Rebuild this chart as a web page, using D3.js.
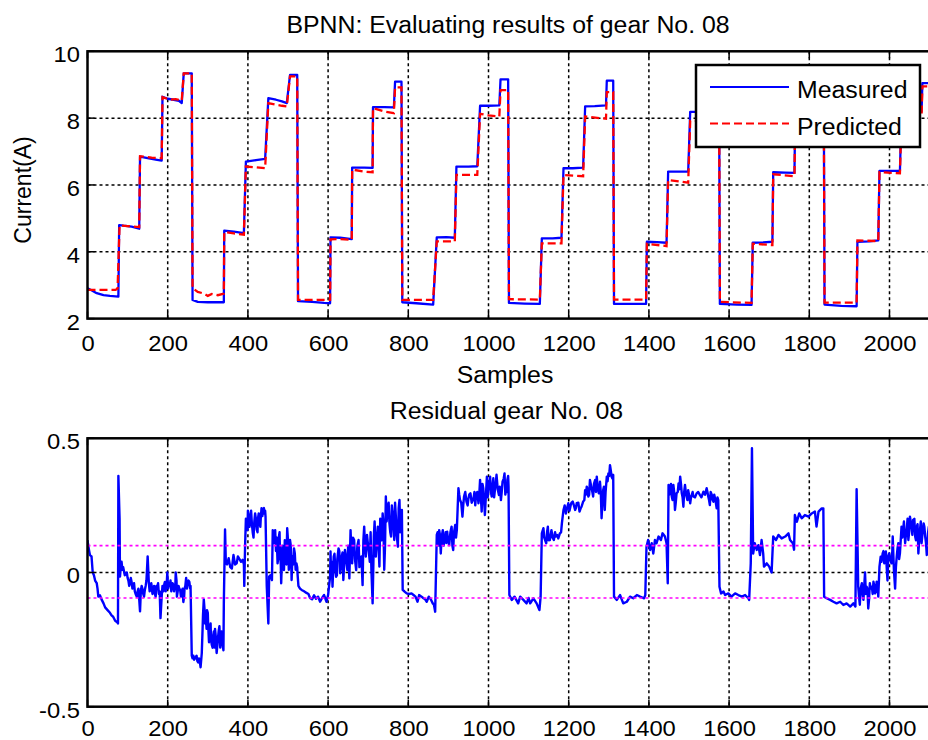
<!DOCTYPE html>
<html>
<head>
<meta charset="utf-8">
<script src="https://cdn.jsdelivr.net/npm/d3@7"></script>
<style>
  html, body { margin: 0; padding: 0; background: #fff; }
  svg { display: block; font-family: "Liberation Sans", Arial, Helvetica, sans-serif; }
</style>
</head>
<body>
<svg id="chart" width="928" height="740"></svg>
<script>
// ---- data -------------------------------------------------------------
const xTicks = [0, 200, 400, 600, 800, 1000, 1200, 1400, 1600, 1800, 2000];
const yTicksTop = [2, 4, 6, 8, 10];
const yTicksBottom = [-0.5, 0, 0.5];
const yTickLabelsBottom = ["-0.5", "0", "0.5"];
const thresholds = [0.1, -0.095];

// measured motor current, [sample, A]
const measured = [
  [0,2.91],[10,2.85],[23,2.76],[40,2.70],[56,2.68],[77,2.66],
  [79,4.80],[90,4.78],[110,4.75],[129,4.69],
  [131,6.85],[150,6.80],[170,6.76],[185,6.73],
  [187,8.64],[200,8.58],[215,8.55],[228,8.52],[235,8.45],
  [240,9.34],[260,9.34],
  [262,2.56],[275,2.50],[300,2.49],[340,2.49],
  [341,4.63],[365,4.60],[390,4.56],
  [395,6.70],[420,6.74],[443,6.78],
  [451,8.60],[470,8.55],[485,8.50],[497,8.45],
  [505,9.29],[523,9.29],
  [525,2.52],[560,2.50],[590,2.47],[605,2.46],
  [606,4.43],[630,4.42],[659,4.38],
  [660,6.52],[690,6.52],[711,6.51],
  [712,8.33],[740,8.33],[764,8.32],
  [767,9.09],[783,9.09],
  [785,2.49],[820,2.46],[862,2.42],
  [871,4.43],[895,4.44],[916,4.42],
  [920,6.55],[950,6.55],[972,6.56],
  [979,8.37],[1000,8.37],[1027,8.38],
  [1030,9.16],[1049,9.16],
  [1051,2.47],[1090,2.45],[1128,2.44],
  [1133,4.40],[1160,4.40],[1182,4.42],
  [1187,6.50],[1210,6.50],[1236,6.52],
  [1241,8.35],[1265,8.36],[1293,8.38],
  [1295,9.12],[1311,9.12],
  [1313,2.44],[1350,2.44],[1393,2.44],
  [1395,4.30],[1420,4.29],[1444,4.27],
  [1448,6.40],[1470,6.40],[1498,6.40],
  [1503,8.19],[1530,8.19],[1552,8.20],
  [1555,9.10],[1575,9.10],
  [1577,2.44],[1620,2.42],[1656,2.41],
  [1659,4.27],[1685,4.28],[1708,4.30],
  [1710,6.38],[1740,6.37],[1763,6.36],
  [1765,8.20],[1790,8.20],[1812,8.20],
  [1815,9.10],[1836,9.10],
  [1838,2.42],[1880,2.38],[1918,2.37],
  [1920,4.30],[1950,4.31],[1972,4.34],
  [1975,6.42],[2000,6.42],[2026,6.42],
  [2030,8.20],[2055,8.20],[2080,8.20],
  [2082,9.05],[2100,9.05]
];

// BPNN prediction, [sample, A]
const predicted = [
  [0,2.86],[70,2.86],[75,2.90],[80,4.79],[100,4.77],[129,4.74],
  [131,6.86],[160,6.82],[185,6.80],
  [187,8.63],[205,8.55],[220,8.57],[235,8.52],
  [240,9.34],[260,9.34],
  [262,2.91],[275,2.80],[290,2.75],[300,2.68],[310,2.74],[325,2.70],[340,2.75],
  [341,4.59],[365,4.55],[390,4.51],
  [395,6.55],[420,6.53],[443,6.50],
  [451,8.45],[470,8.40],[485,8.37],[497,8.35],
  [505,9.25],[523,9.25],
  [525,2.56],[560,2.56],[605,2.56],
  [606,4.37],[630,4.38],[659,4.36],
  [660,6.46],[690,6.40],[711,6.38],
  [712,8.30],[740,8.20],[764,8.15],
  [767,8.92],[783,8.92],
  [785,2.56],[862,2.56],
  [871,4.31],[916,4.31],
  [920,6.30],[972,6.30],
  [979,8.13],[1000,8.08],[1027,8.05],
  [1030,8.84],[1049,8.84],
  [1051,2.58],[1128,2.57],
  [1133,4.25],[1182,4.25],
  [1187,6.30],[1236,6.26],
  [1241,8.05],[1293,7.98],
  [1295,8.78],[1311,8.78],
  [1313,2.57],[1393,2.57],
  [1395,4.24],[1444,4.17],
  [1448,6.15],[1498,6.07],
  [1503,7.92],[1552,7.92],
  [1555,8.80],[1575,8.80],
  [1577,2.50],[1656,2.47],
  [1659,4.24],[1708,4.20],
  [1710,6.32],[1763,6.26],
  [1765,8.05],[1812,8.05],
  [1815,8.90],[1836,8.90],
  [1838,2.48],[1918,2.48],
  [1920,4.34],[1972,4.32],
  [1975,6.38],[2026,6.35],
  [2030,8.05],[2080,8.05],
  [2082,8.95],[2100,8.95]
];

// residual between measurement and prediction, [sample, A]
const residual = [
  [0,0.12],[3,0.09],[6,0.065],[10,0.06],[13,0.0],[16,-0.01],[19,-0.03],[23,-0.04],[25,-0.06],[27,-0.09],
  [31,-0.085],[35,-0.10],[40,-0.115],[44,-0.13],[50,-0.14],[56,-0.15],[60,-0.16],[64,-0.165],[69,-0.18],[74,-0.185],
  [76,-0.19],[77,0.36],[80,0.20],[81,-0.015],[83,0.02],[85,0.04],[87,0.01],[89,0.02],[93,-0.01],[98,0.0],
  [102,-0.03],[106,-0.04],[110,-0.035],[114,-0.05],[118,-0.07],[123,-0.09],[127,-0.06],[131,-0.145],[135,-0.05],[139,-0.08],
  [143,-0.065],[147,-0.03],[150,0.06],[153,-0.04],[157,-0.06],[160,-0.05],[164,-0.07],[168,-0.08],[172,-0.05],[176,-0.04],
  [180,-0.07],[182,-0.17],[185,-0.09],[187,-0.05],[190,-0.06],[193,-0.035],[196,-0.05],[199,0.0],[203,-0.04],[207,-0.03],
  [210,-0.06],[214,-0.045],[217,-0.06],[220,0.0],[223,-0.09],[227,-0.05],[231,-0.065],[235,-0.08],[239,-0.11],[242,-0.06],
  [246,-0.02],[250,-0.04],[254,-0.035],[257,-0.05],[260,-0.31],[264,-0.31],[268,-0.32],[272,-0.31],[276,-0.335],[280,-0.33],
  [282,-0.353],[285,-0.30],[287,-0.21],[290,-0.10],[292,-0.14],[295,-0.165],[298,-0.14],[301,-0.20],[305,-0.23],[308,-0.25],
  [312,-0.28],[315,-0.22],[318,-0.21],[322,-0.30],[325,-0.25],[329,-0.20],[332,-0.24],[335,-0.264],[339,-0.29],[340,-0.11],
  [343,0.16],[345,0.035],[348,0.03],[352,0.053],[356,0.02],[360,0.015],[364,0.065],[368,0.03],[372,0.034],[375,0.06],
  [379,0.05],[383,0.04],[387,0.047],[390,0.03],[391,-0.05],[393,0.10],[395,0.20],[399,0.158],[402,0.20],[406,0.21],
  [410,0.18],[414,0.13],[418,0.22],[422,0.16],[425,0.20],[429,0.19],[432,0.20],[434,0.24],[438,0.235],[441,0.22],
  [444,0.208],[447,-0.05],[451,-0.19],[453,-0.015],[456,-0.01],[460,-0.028],[462,0.158],[465,0.11],[468,0.158],[470,0.08],
  [474,0.034],[477,0.13],[480,0.07],[483,-0.04],[487,0.059],[490,0.009],[494,0.09],[498,0.165],[502,0.01],[505,0.121],
  [509,-0.028],[513,0.03],[517,0.071],[521,0.034],[524,-0.01],[526,-0.05],[530,-0.06],[534,-0.065],[540,-0.07],[545,-0.075],
  [551,-0.08],[555,-0.095],[560,-0.10],[565,-0.085],[570,-0.098],[575,-0.09],[580,-0.109],[585,-0.095],[590,-0.084],[596,-0.109],
  [600,-0.084],[605,-0.015],[606,0.078],[609,0.04],[611,-0.053],[614,0.059],[618,0.01],[620,-0.016],[623,0.05],[626,0.09],
  [630,-0.003],[634,0.06],[638,-0.028],[642,0.084],[648,0.009],[653,-0.022],[656,0.158],[660,0.034],[665,0.121],[670,0.009],
  [676,0.121],[680,0.047],[683,0.06],[686,-0.047],[690,0.171],[694,0.059],[700,0.096],[704,0.04],[708,0.009],[711,-0.115],
  [714,0.134],[719,0.059],[724,0.171],[728,0.022],[732,0.158],[736,0.22],[740,0.01],[744,0.283],[749,0.245],[753,0.183],
  [757,0.134],[761,0.22],[765,0.121],[769,0.208],[774,0.096],[778,0.27],[782,0.196],[784,0.233],[786,-0.065],[790,-0.07],
  [796,-0.078],[802,-0.08],[808,-0.078],[813,-0.084],[818,-0.09],[823,-0.109],[827,-0.084],[833,-0.09],[838,-0.096],[842,-0.10],
  [846,-0.109],[851,-0.09],[856,-0.10],[861,-0.115],[864,-0.12],[867,-0.146],[871,0.14],[874,0.12],[877,0.158],[881,0.071],
  [886,0.158],[891,0.121],[897,0.152],[902,0.102],[908,0.171],[912,0.084],[917,0.177],[921,0.158],[925,0.314],[929,0.27],
  [932,0.26],[935,0.208],[939,0.283],[945,0.264],[950,0.276],[955,0.295],[961,0.27],[965,0.30],[969,0.289],[975,0.258],
  [979,0.345],[983,0.227],[987,0.314],[991,0.214],[996,0.357],[1000,0.314],[1004,0.357],[1008,0.283],[1012,0.351],[1016,0.307],
  [1020,0.364],[1026,0.289],[1031,0.27],[1035,0.338],[1040,0.369],[1044,0.32],[1047,0.345],[1050,0.32],[1052,-0.084],[1058,-0.102],
  [1065,-0.09],[1074,-0.115],[1079,-0.09],[1087,-0.102],[1095,-0.115],[1100,-0.095],[1104,-0.115],[1112,-0.096],[1120,-0.115],[1127,-0.14],
  [1130,-0.09],[1133,0.146],[1137,0.165],[1144,0.109],[1148,0.171],[1153,0.121],[1157,0.158],[1163,0.121],[1168,0.134],[1174,0.127],
  [1178,0.146],[1183,0.183],[1187,0.233],[1193,0.22],[1199,0.258],[1205,0.251],[1210,0.264],[1216,0.233],[1220,0.258],[1227,0.227],
  [1232,0.245],[1236,0.264],[1241,0.307],[1245,0.32],[1249,0.283],[1253,0.345],[1257,0.314],[1261,0.283],[1266,0.345],[1270,0.357],
  [1275,0.295],[1278,0.338],[1282,0.202],[1286,0.307],[1290,0.233],[1295,0.357],[1299,0.369],[1303,0.40],[1307,0.357],[1311,0.364],
  [1313,-0.09],[1320,-0.102],[1328,-0.084],[1336,-0.115],[1345,-0.109],[1353,-0.09],[1361,-0.096],[1370,-0.084],[1378,-0.09],[1388,-0.096],
  [1391,-0.084],[1394,0.096],[1398,0.121],[1403,0.084],[1407,0.109],[1411,0.071],[1415,0.121],[1419,0.109],[1424,0.134],[1430,0.121],
  [1434,0.146],[1440,0.134],[1444,0.109],[1447,-0.04],[1449,0.326],[1453,0.314],[1457,0.283],[1461,0.326],[1465,0.233],[1469,0.295],
  [1474,0.332],[1478,0.357],[1482,0.295],[1486,0.245],[1490,0.326],[1494,0.283],[1498,0.307],[1503,0.258],[1507,0.289],[1511,0.283],
  [1519,0.295],[1527,0.289],[1536,0.301],[1544,0.314],[1548,0.283],[1552,0.251],[1557,0.289],[1561,0.264],[1565,0.276],[1569,0.239],
  [1573,0.27],[1576,-0.053],[1580,-0.078],[1586,-0.071],[1590,-0.084],[1598,-0.078],[1606,-0.09],[1615,-0.078],[1623,-0.084],[1632,-0.09],
  [1640,-0.084],[1648,-0.096],[1650,-0.102],[1654,0.034],[1657,0.463],[1660,0.071],[1664,0.109],[1669,0.084],[1673,0.102],[1677,0.065],
  [1681,0.121],[1685,0.071],[1687,0.022],[1694,0.034],[1700,0.022],[1706,0.0],[1710,0.134],[1717,0.121],[1723,0.14],[1731,0.127],
  [1740,0.134],[1748,0.146],[1752,0.121],[1759,0.109],[1762,0.085],[1764,0.214],[1769,0.189],[1775,0.22],[1781,0.202],[1789,0.214],
  [1798,0.208],[1806,0.22],[1814,0.227],[1818,0.171],[1823,0.227],[1831,0.239],[1835,0.239],[1837,-0.09],[1843,-0.096],[1852,-0.102],
  [1860,-0.109],[1868,-0.115],[1877,-0.109],[1885,-0.121],[1893,-0.115],[1902,-0.127],[1910,-0.115],[1915,-0.127],[1918,0.31],[1922,-0.053],
  [1926,-0.12],[1931,-0.04],[1935,-0.102],[1939,0.0],[1943,-0.053],[1947,-0.134],[1951,-0.04],[1956,-0.053],[1960,-0.034],[1964,-0.078],
  [1968,-0.034],[1972,-0.09],[1975,0.022],[1978,0.059],[1983,0.071],[1987,0.034],[1991,0.078],[1995,-0.03],[1999,0.071],[2005,0.034],
  [2008,0.134],[2011,0.009],[2014,-0.06],[2018,0.059],[2022,0.109],[2026,0.071],[2030,0.171],[2034,0.158],[2039,0.109],[2043,0.158],
  [2047,0.121],[2051,0.208],[2055,0.171],[2059,0.196],[2064,0.134],[2068,0.171],[2072,0.071],[2076,0.158],[2080,0.109],[2085,0.183],
  [2089,0.134],[2093,0.065],[2096,0.146],[2100,0.12]
];

// finer residual fluctuation inside the noisy stretches, [sample, A]
const residualDetail = [
  [100,-0.02],[104,-0.05],[108,-0.02],[112,-0.06],[116,-0.04],[120,-0.08],[125,-0.07],[129,-0.10],[133,-0.07],[137,-0.06],
  [141,-0.09],[145,-0.05],[155,-0.07],[159,-0.04],[162,-0.08],[166,-0.05],[170,-0.09],[174,-0.06],[178,-0.08],[189,-0.07],
  [192,-0.04],[195,-0.07],[198,-0.03],[201,-0.06],[205,-0.05],[209,-0.07],[212,-0.04],[216,-0.07],[219,-0.05],[222,-0.03],
  [225,-0.07],[229,-0.06],[233,-0.09],[237,-0.06],[241,-0.09],[244,-0.05],[248,-0.06],[252,-0.03],[256,-0.06],
  [262,-0.32],[266,-0.325],[270,-0.315],[274,-0.33],[278,-0.32],[288,-0.16],[293,-0.19],[297,-0.21],[300,-0.15],[303,-0.26],
  [307,-0.19],[310,-0.27],[313,-0.24],[317,-0.28],[320,-0.24],[324,-0.27],[327,-0.22],[331,-0.28],[334,-0.22],[337,-0.27],
  [397,0.18],[400,0.23],[404,0.17],[408,0.23],[412,0.15],[416,0.19],[420,0.20],[424,0.15],[427,0.22],[431,0.17],[436,0.21],
  [440,0.24],[443,0.23],
  [464,0.14],[467,0.12],[472,0.13],[476,0.06],[479,0.15],[482,0.03],[486,0.10],[489,0.05],[492,0.12],[496,0.03],[500,0.12],
  [504,0.05],[507,0.10],[511,0.06],[515,0.09],[519,0.01],[523,0.02],
  [607,0.02],[616,0.07],[622,-0.01],[628,0.08],[632,0.02],[636,0.075],[645,0.05],[650,0.10],[658,0.08],[662,0.13],[667,0.05],
  [673,0.10],[678,0.02],[688,0.12],[692,0.10],[697,0.14],[702,0.07],[706,0.15],[713,0.04],[716,0.19],[721,0.11],[726,0.09],
  [730,0.20],[734,0.12],[738,0.18],[742,0.10],[746,0.19],[751,0.26],[755,0.15],[759,0.25],[763,0.17],[767,0.26],[771,0.14],
  [776,0.24],[780,0.15],
  [873,0.15],[876,0.10],[879,0.14],[883,0.13],[888,0.10],[893,0.15],[895,0.11],[899,0.12],[905,0.15],[910,0.10],[914,0.15],[919,0.13],
  [927,0.29],[937,0.25],[942,0.30],[948,0.25],[952,0.29],[958,0.26],[963,0.28],[967,0.25],[972,0.30],[977,0.29],[981,0.28],
  [985,0.33],[989,0.27],[994,0.30],[998,0.28],[1002,0.33],[1006,0.30],[1010,0.32],[1014,0.28],[1018,0.33],[1023,0.31],[1028,0.32],
  [1033,0.30],[1038,0.35],[1042,0.29],[1046,0.30],[1049,0.36],
  [1139,0.13],[1146,0.15],[1150,0.12],[1155,0.14],[1160,0.13],[1166,0.15],[1171,0.14],[1181,0.15],[1190,0.25],[1196,0.24],
  [1202,0.23],[1207,0.26],[1213,0.25],[1218,0.24],[1224,0.26],[1230,0.24],[1239,0.27],[1243,0.29],[1247,0.31],[1251,0.29],
  [1255,0.33],[1259,0.30],[1263,0.33],[1268,0.30],[1272,0.32],[1277,0.32],[1280,0.30],[1284,0.26],[1288,0.32],[1292,0.30],
  [1297,0.34],[1301,0.36],[1305,0.38],[1309,0.35],
  [1451,0.29],[1455,0.33],[1459,0.27],[1463,0.30],[1467,0.26],[1472,0.30],[1476,0.31],[1480,0.33],[1484,0.28],[1488,0.30],
  [1492,0.30],[1496,0.27],[1500,0.29],[1505,0.28],[1509,0.30],[1515,0.28],[1523,0.30],[1531,0.28],[1540,0.29],[1546,0.30],
  [1550,0.27],[1554,0.30],[1559,0.27],[1563,0.29],[1567,0.26],[1571,0.28],
  [1924,-0.09],[1928,-0.06],[1933,-0.08],[1937,-0.05],[1941,-0.08],[1945,-0.06],[1949,-0.10],[1953,-0.06],[1958,-0.08],
  [1962,-0.05],[1966,-0.07],[1970,-0.05],[1980,0.04],[1985,0.08],[1989,0.05],[1993,0.02],[1997,0.06],[2002,0.05],[2007,0.08],
  [2016,0.02],[2020,0.09],[2024,0.05],[2028,0.12],
  [2032,0.13],[2036,0.19],[2041,0.14],[2045,0.20],[2049,0.15],[2053,0.19],[2057,0.14],[2062,0.20],[2066,0.12],[2070,0.18],
  [2074,0.12],[2078,0.19],[2082,0.14],[2087,0.17],[2091,0.11],[2098,0.17]
];

// ---- layout ------------------------------------------------------------
const svg = d3.select("#chart");
const FONT_TICK = 22, FONT_LABEL = 23, FONT_LEGEND = 23;
const WIDEN = 1.08; // horizontal glyph widening of upright text

const x = d3.scaleLinear().domain([0, 2100]).range([87.5, 929.6]);
const yTop = d3.scaleLinear().domain([2, 10]).range([318.6, 51.3]);
const yBot = d3.scaleLinear().domain([-0.5, 0.5]).range([706.7, 438.3]);

const defs = svg.append("defs");

function makePanel(id, y, yTicks, yLabels, labelDrop) {
  const [x0, x1] = x.range();
  const [yb, yt] = y.range();
  const g = svg.append("g").attr("id", id);

  defs.append("clipPath").attr("id", id + "-clip")
    .append("rect").attr("x", x0).attr("y", yt).attr("width", x1 - x0).attr("height", yb - yt);

  g.append("rect").attr("x", x0).attr("y", yt).attr("width", x1 - x0).attr("height", yb - yt).attr("fill", "#fff");

  // dotted grid
  const grid = g.append("g").attr("stroke", "#000").attr("stroke-width", 1.5)
    .attr("stroke-dasharray", "3,3").attr("fill", "none");
  grid.selectAll("line.gx").data(xTicks.slice(1)).join("line").attr("class", "gx")
    .attr("x1", d => x(d)).attr("x2", d => x(d)).attr("y1", yt).attr("y2", yb);
  grid.selectAll("line.gy").data(yTicks.slice(1, -1)).join("line").attr("class", "gy")
    .attr("x1", x0).attr("x2", x1).attr("y1", d => y(d)).attr("y2", d => y(d));

  const plot = g.append("g").attr("clip-path", `url(#${id}-clip)`);

  // tick labels via d3 axes
  const ax = g.append("g").attr("transform", `translate(0,${yb})`)
    .call(d3.axisBottom(x).tickValues(xTicks).tickFormat(d3.format("d")).tickSize(0).tickPadding(0));
  ax.select(".domain").remove();
  ax.selectAll("text").attr("dy", null).attr("y", labelDrop).attr("font-size", FONT_TICK)
    .attr("font-family", "Liberation Sans, Arial, sans-serif").attr("fill", "#000").classed("wide", true);

  const ay = g.append("g").attr("transform", `translate(${x0},0)`)
    .call(d3.axisLeft(y).tickValues(yTicks).tickFormat((d, i) => yLabels[i]).tickSize(0).tickPadding(0));
  ay.select(".domain").remove();
  ay.selectAll("text").attr("dy", null).attr("x", -7.5).attr("y", 10.4).attr("font-size", FONT_TICK)
    .attr("font-family", "Liberation Sans, Arial, sans-serif").attr("fill", "#000").classed("wide", true);

  return { g, plot, x0, x1, yt, yb, y, yTicks };
}

function drawFrame(p) {
  const { g, x0, x1, yt, yb, y, yTicks } = p;
  const t = 7;
  const ticks = g.append("g").attr("stroke", "#000").attr("stroke-width", 1.5);
  ticks.selectAll("line.tb").data(xTicks).join("line").attr("class", "tb")
    .attr("x1", d => x(d)).attr("x2", d => x(d)).attr("y1", yb).attr("y2", yb - t);
  ticks.selectAll("line.tt").data(xTicks).join("line").attr("class", "tt")
    .attr("x1", d => x(d)).attr("x2", d => x(d)).attr("y1", yt).attr("y2", yt + t);
  ticks.selectAll("line.tl").data(yTicks).join("line").attr("class", "tl")
    .attr("x1", x0).attr("x2", x0 + t).attr("y1", d => y(d)).attr("y2", d => y(d));
  g.append("rect").attr("x", x0).attr("y", yt).attr("width", x1 - x0).attr("height", yb - yt)
    .attr("fill", "none").attr("stroke", "#000").attr("stroke-width", 2.5);
}

// ---- upper panel: measured vs predicted --------------------------------
const upper = makePanel("upper", yTop, yTicksTop, yTicksTop.map(String), 32);
const lineTop = d3.line().x(d => x(d[0])).y(d => yTop(d[1]));

upper.plot.append("path").datum(measured).attr("d", lineTop)
  .attr("fill", "none").attr("stroke", "#0000ff").attr("stroke-width", 2.3).attr("stroke-linejoin", "round");
upper.plot.append("path").datum(predicted).attr("d", lineTop)
  .attr("fill", "none").attr("stroke", "#ff0000").attr("stroke-width", 2.3).attr("stroke-dasharray", "8,4");
drawFrame(upper);

// legend
const leg = svg.append("g").attr("id", "legend");
leg.append("rect").attr("x", 696).attr("y", 65).attr("width", 224).attr("height", 82)
  .attr("fill", "#fff").attr("stroke", "#000").attr("stroke-width", 2.5);
const legendItems = [
  { name: "Measured", color: "#0000ff", dash: null, y: 87 },
  { name: "Predicted", color: "#ff0000", dash: "8,4", y: 123.5 }
];
legendItems.forEach(it => {
  leg.append("line").attr("x1", 710).attr("x2", 789).attr("y1", it.y).attr("y2", it.y)
    .attr("stroke", it.color).attr("stroke-width", 2).attr("stroke-dasharray", it.dash);
  leg.append("text").attr("class", "wide").attr("x", 797).attr("y", it.y + 11).attr("font-size", FONT_LEGEND)
    .attr("fill", "#000").text(it.name);
});

svg.append("text").attr("class", "wide").attr("x", 508).attr("y", 32.5).attr("text-anchor", "middle")
  .attr("font-size", FONT_LABEL).text("BPNN: Evaluating results of gear No. 08");
svg.append("text").attr("class", "wide").attr("x", 505).attr("y", 383).attr("text-anchor", "middle")
  .attr("font-size", FONT_LABEL).text("Samples");
svg.append("text").attr("transform", "translate(31,190) rotate(-90)").attr("text-anchor", "middle")
  .attr("font-size", FONT_LABEL).text("Current(A)");

// ---- lower panel: residual ---------------------------------------------
const lower = makePanel("lower", yBot, yTicksBottom, yTickLabelsBottom, 29);
const lineBot = d3.line().x(d => x(d[0])).y(d => yBot(d[1]));
const residualAll = d3.sort(residual.concat(residualDetail), d => d[0]);

lower.plot.append("path").datum(residualAll).attr("d", lineBot)
  .attr("fill", "none").attr("stroke", "#0000ff").attr("stroke-width", 2.4).attr("stroke-linejoin", "round");
lower.plot.selectAll("line.thr").data(thresholds).join("line").attr("class", "thr")
  .attr("x1", lower.x0).attr("x2", lower.x1).attr("y1", d => yBot(d)).attr("y2", d => yBot(d))
  .attr("stroke", "#ff00ff").attr("stroke-width", 1.7).attr("stroke-dasharray", "3,3");
drawFrame(lower);

svg.append("text").attr("class", "wide").attr("x", 506.5).attr("y", 419).attr("text-anchor", "middle")
  .attr("font-size", FONT_LABEL).text("Residual gear No. 08");

// widen upright text slightly
svg.selectAll("text.wide").each(function () {
  const len = this.getComputedTextLength();
  d3.select(this).attr("textLength", len * WIDEN).attr("lengthAdjust", "spacingAndGlyphs");
});
</script>
</body>
</html>
